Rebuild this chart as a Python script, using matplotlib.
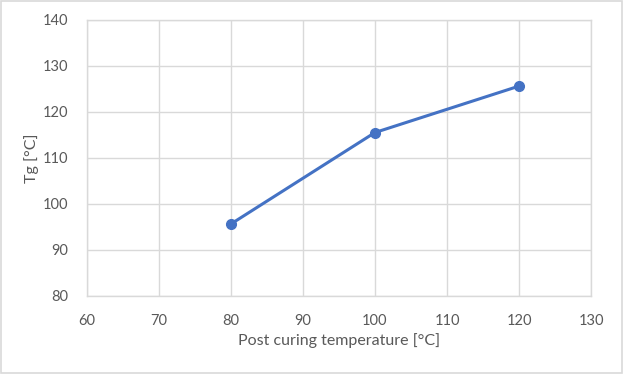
import matplotlib
matplotlib.use("Agg")
import matplotlib.pyplot as plt
from matplotlib.patches import Rectangle

# data
post_cure_temp = [80, 100, 120]
tg_values = [95.6, 115.5, 125.6]
x_ticks = [60, 70, 80, 90, 100, 110, 120, 130]
y_ticks = [80, 90, 100, 110, 120, 130, 140]

plt.rcParams['font.family'] = ['Lato', 'DejaVu Sans']

fig = plt.figure(figsize=(6.23, 3.74), dpi=100)
ax = fig.add_axes([0.139, 0.209, 0.810, 0.738])

grid_col = '#d9d9d9'
text_col = '#595959'

ax.plot(post_cure_temp, tg_values, '-o', color='#4472c4', lw=2.2,
        markersize=7, zorder=3, clip_on=False)

ax.set_xlim(60, 130)
ax.set_ylim(80, 140)
ax.set_xticks(x_ticks)
ax.set_yticks(y_ticks)
ax.grid(True, color=grid_col, lw=1.0)
ax.set_axisbelow(True)
for s in ax.spines.values():
    s.set_color(grid_col)
    s.set_linewidth(1.0)
ax.tick_params(length=0, colors=text_col, labelsize=10.5)
ax.tick_params(axis='x', pad=13)
ax.tick_params(axis='y', pad=13)

ax.set_xlabel('Post curing temperature [°C]', fontsize=11.5, color=text_col, labelpad=4)
ax.set_ylabel('Tg [°C]', fontsize=11.5, color=text_col, labelpad=3)

# outer chart border
fig.patches.append(Rectangle((0.002, 0.003), 0.996, 0.994, transform=fig.transFigure,
                             fill=False, edgecolor=grid_col, lw=1.2))

fig.savefig('out.png', dpi=100)
